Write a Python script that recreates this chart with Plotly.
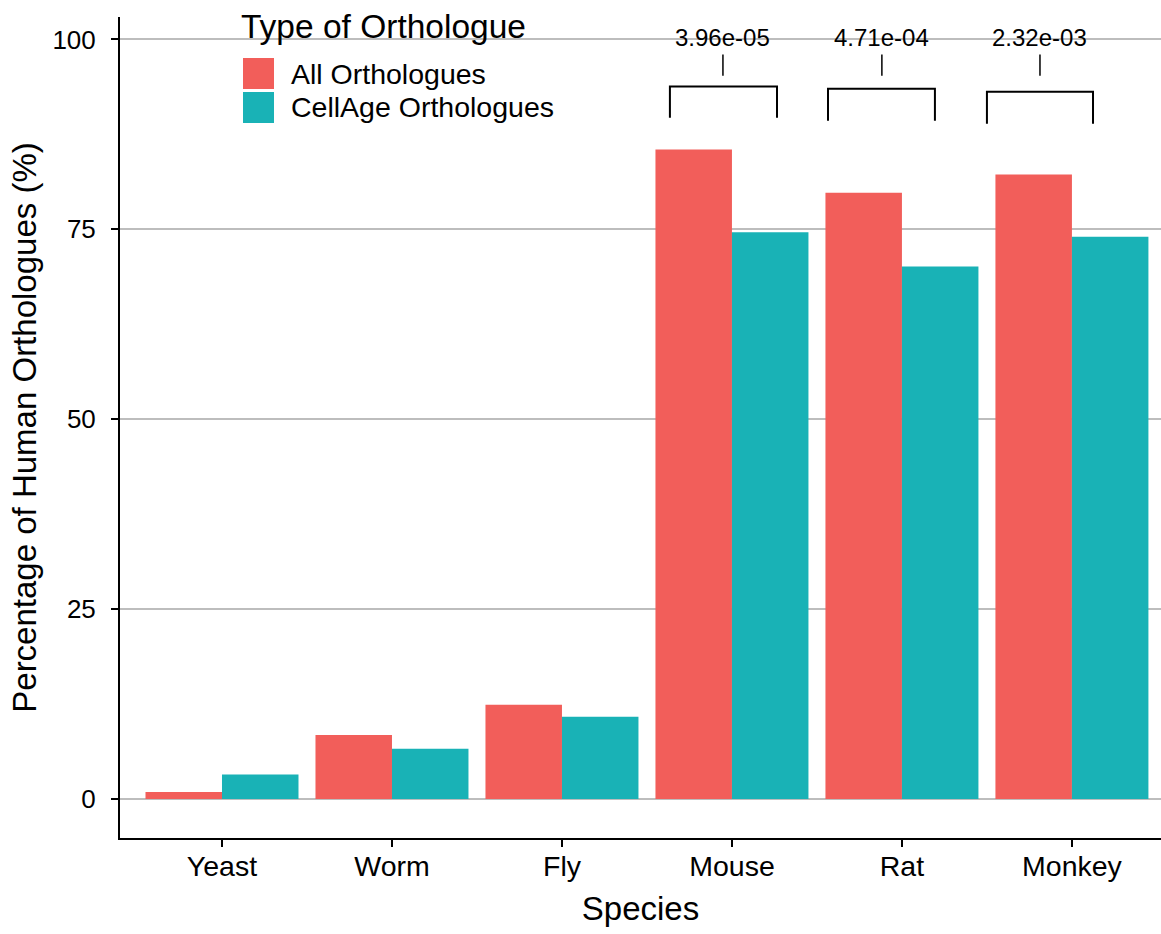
import plotly.graph_objects as go

species = ["Yeast", "Worm", "Fly", "Mouse", "Rat", "Monkey"]
all_orth = [0.9, 8.4, 12.4, 85.5, 79.8, 82.2]
cellage_orth = [3.2, 6.6, 10.8, 74.6, 70.1, 74.0]
series_names = ["All Orthologues", "CellAge Orthologues"]
colors = ["#F25E5A", "#19B2B6"]

# significance brackets (category-index coordinates)
br_left = [2.635, 3.565, 4.50]
br_right = [3.265, 4.194, 5.124]
br_mid = [2.947, 3.882, 4.812]
br_top = [93.8, 93.5, 93.1]
br_bottom = [89.7, 89.3, 88.9]
tick_lo = [95.2, 95.2, 95.2]
tick_hi = [98.0, 98.0, 98.0]
label_y = [100.2, 100.2, 100.2]
pvals = ["3.96e-05", "4.71e-04", "2.32e-03"]

FONT = "Liberation Sans, Arial, sans-serif"

fig = go.Figure()
fig.add_trace(go.Bar(x=species, y=all_orth, name=series_names[0],
                     marker=dict(color=colors[0], line=dict(width=0)), showlegend=False))
fig.add_trace(go.Bar(x=species, y=cellage_orth, name=series_names[1],
                     marker=dict(color=colors[1], line=dict(width=0)), showlegend=False))

shapes = []
annotations = []
for l, r, m, t, b, lo, hi, ly, p in zip(br_left, br_right, br_mid, br_top, br_bottom,
                                          tick_lo, tick_hi, label_y, pvals):
    shapes.append(dict(type="path", xref="x", yref="y",
                       path=f"M {l},{b} L {l},{t} L {r},{t} L {r},{b}",
                       line=dict(color="black", width=2)))
    shapes.append(dict(type="line", xref="x", yref="y", x0=m, x1=m, y0=lo, y1=hi,
                       line=dict(color="black", width=1.5)))
    annotations.append(dict(x=m, y=ly, xref="x", yref="y", text=p, showarrow=False,
                            font=dict(size=24, color="black", family=FONT),
                            xanchor="center", yanchor="middle"))

# manual legend (pixel -> paper conversion)
L, R, T, B = 120, 1161, 17, 838
def px(xp):
    return (xp - L) / (R - L)
def py(yp):
    return (B - yp) / (B - T)

annotations.append(dict(x=px(239), y=py(27), xref="paper", yref="paper",
                        text="Type of Orthologue", showarrow=False,
                        xanchor="left", yanchor="middle",
                        font=dict(size=33.5, color="black", family=FONT)))
key_tops = [58, 92]
for i, name in enumerate(series_names):
    y0 = key_tops[i]
    shapes.append(dict(type="rect", xref="paper", yref="paper",
                       x0=px(243), x1=px(274), y0=py(y0 + 31), y1=py(y0),
                       fillcolor=colors[i], line=dict(width=0)))
    annotations.append(dict(x=px(289), y=py(y0 + 15.5), xref="paper", yref="paper",
                            text=name, showarrow=False, xanchor="left", yanchor="middle",
                            font=dict(size=28.5, color="black", family=FONT)))

fig.update_layout(
    width=1161, height=934,
    margin=dict(l=L, r=1161 - R, t=T, b=934 - B),
    paper_bgcolor="white", plot_bgcolor="white",
    barmode="group", bargap=0.1, bargroupgap=0,
    font=dict(family=FONT, color="black"),
    shapes=shapes, annotations=annotations,
    xaxis=dict(range=[-0.6, 5.524], showline=True, linecolor="black", linewidth=2,
               ticks="outside", ticklen=7, tickwidth=2, tickcolor="black",
               showgrid=False, tickfont=dict(size=28.5, color="black"),
               ticklabelstandoff=-5,
               title=dict(text="Species", font=dict(size=33, color="black"), standoff=16)),
    yaxis=dict(range=[-5.15, 102.95], showline=True, linecolor="black", linewidth=2,
               ticks="outside", ticklen=7, tickwidth=2, tickcolor="black",
               tickvals=[0, 25, 50, 75, 100], showgrid=True, gridcolor="#BDBDBD",
               gridwidth=1.5, zeroline=False, tickfont=dict(size=26, color="black"),
               ticklabelstandoff=10,
               title=dict(text="Percentage of Human Orthologues (%)",
                          font=dict(size=33, color="black"), standoff=6)),
)

fig.write_html("out.html")
